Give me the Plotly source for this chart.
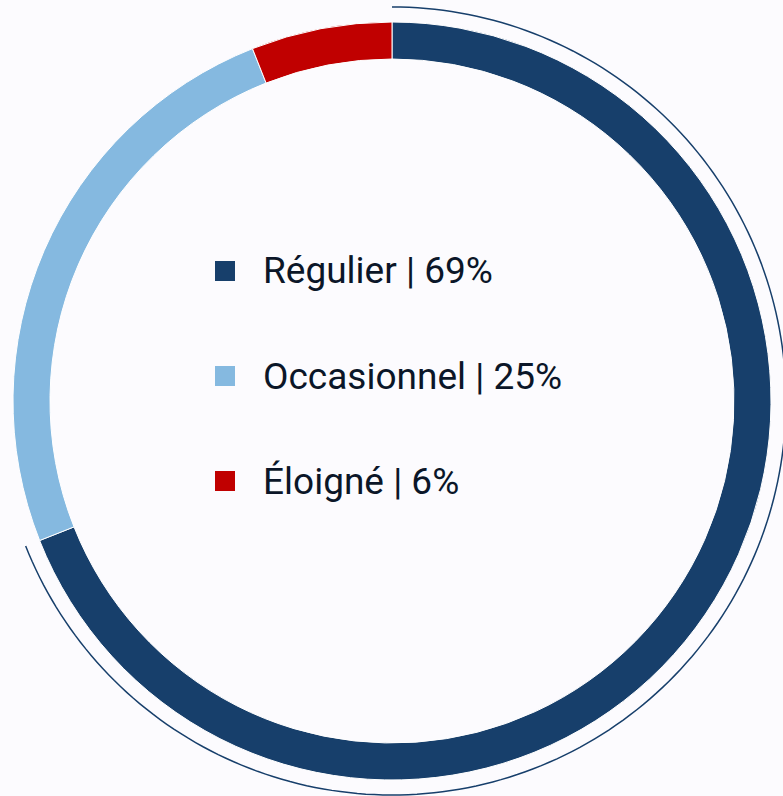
import math
import plotly.graph_objects as go

categories = ["Régulier", "Occasionnel", "Éloigné"]
shares = [69, 25, 6]
colors = ["#173F6B", "#85B9E0", "#C00000"]
legend_labels = [f"{c} | {v}%" for c, v in zip(categories, shares)]

W, H = 783, 796
CX, CY, R = 392, 401, 379  # pixel centre / radius of the ring
HOLE = 342 / 379
ARC_R = 394


def px(x):
    return x / W


def py(y):
    return 1 - y / H


fig = go.Figure()
fig.add_trace(go.Pie(
    labels=categories,
    values=shares,
    sort=False,
    direction="clockwise",
    rotation=0,
    hole=HOLE,
    marker=dict(colors=colors, line=dict(color="#FFFFFF", width=1)),
    textinfo="none",
    hoverinfo="skip",
    showlegend=False,
    domain=dict(x=[px(CX - R), px(CX + R)], y=[py(CY + R), py(CY - R)]),
))

# thin outer arc around the first (dominant) slice
total = sum(shares)
end_deg = 360 * shares[0] / total
pts = []
n = 200
for i in range(n + 1):
    a = math.radians(end_deg * i / n)
    x = CX + ARC_R * math.sin(a)
    y = CY - ARC_R * math.cos(a)
    pts.append(f"{px(x):.5f},{py(y):.5f}")
path = "M " + " L ".join(pts)

shapes = [dict(type="path", path=path, xref="paper", yref="paper",
               line=dict(color="#173F6B", width=1.5), layer="above")]

annotations = []
row_y = [271, 376, 481]
for lab, col, yy in zip(legend_labels, colors, row_y):
    shapes.append(dict(type="rect", xref="paper", yref="paper",
                       x0=px(215), x1=px(235), y0=py(yy - 10), y1=py(yy + 10),
                       fillcolor=col, line=dict(width=0)))
    annotations.append(dict(text=lab, xref="paper", yref="paper",
                            x=px(261), y=py(yy), xanchor="left", yanchor="middle",
                            showarrow=False,
                            font=dict(family="Roboto", size=37, color="#0B1628")))

fig.update_layout(
    width=W, height=H,
    margin=dict(l=0, r=0, t=0, b=0),
    paper_bgcolor="#FCFBFE",
    plot_bgcolor="#FCFBFE",
    shapes=shapes,
    annotations=annotations,
    showlegend=False,
)

fig.write_html(
    "out.html",
    config={"displayModeBar": False},
    post_script="document.body.style.margin='0';document.body.style.background='#FCFBFE';",
)
